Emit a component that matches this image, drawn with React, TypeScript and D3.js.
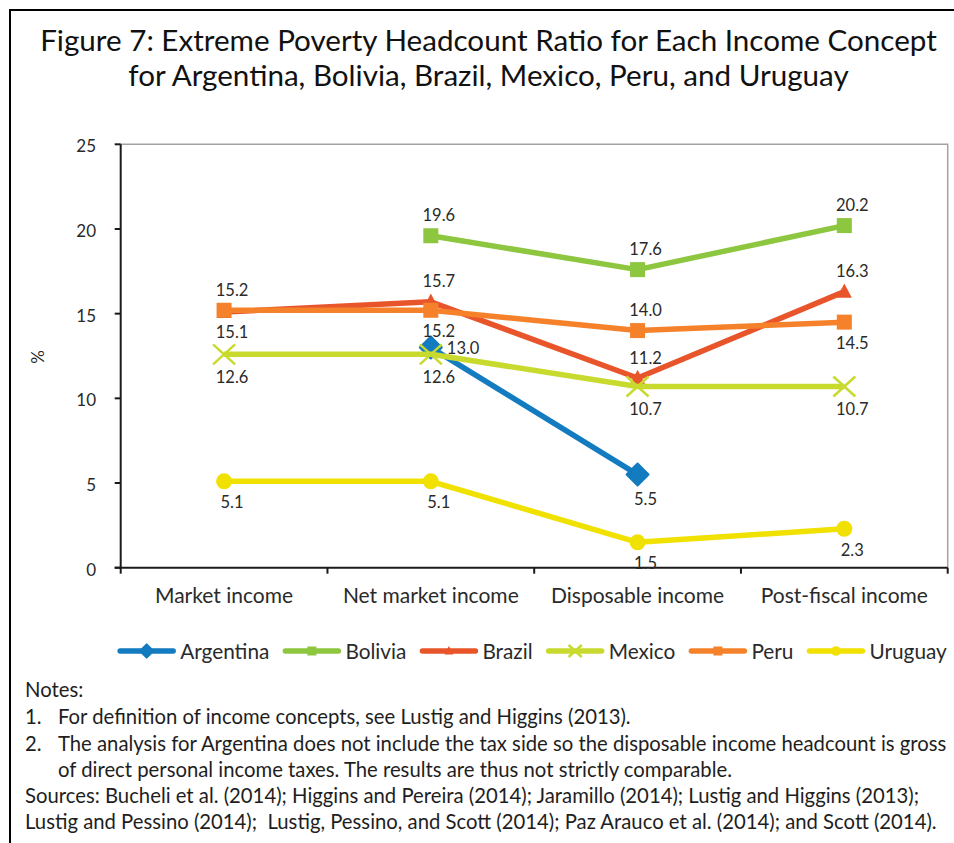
import React, { useMemo } from "react";
import * as d3 from "d3";

// Income concepts along the x axis
const categories = ["Market income", "Net market income", "Disposable income", "Post-fiscal income"];

// Extreme poverty headcount ratio (%) per income concept
const argentina: (number | null)[] = [null, 13.0, 5.5, null];
const bolivia: (number | null)[] = [null, 19.6, 17.6, 20.2];
const brazil: (number | null)[] = [15.1, 15.7, 11.2, 16.3];
const mexico: (number | null)[] = [12.6, 12.6, 10.7, 10.7];
const peru: (number | null)[] = [15.2, 15.2, 14.0, 14.5];
const uruguay: (number | null)[] = [5.1, 5.1, 1.5, 2.3];

// Where each value label sits relative to its marker
const argentinaLabelSide = [null, "right", "below", null];
const boliviaLabelSide = [null, "above", "above", "above"];
const brazilLabelSide = ["below", "above", "above", "above"];
const mexicoLabelSide = ["below", "below", "below", "below"];
const peruLabelSide = ["above", "below", "above", "below"];
const uruguayLabelSide = ["below", "below", "below", "below"];

const yTicks = [0, 5, 10, 15, 20, 25];

const titleLines = [
  "Figure 7: Extreme Poverty Headcount Ratio for Each Income Concept",
  "for Argentina, Bolivia, Brazil, Mexico, Peru, and Uruguay",
];

const noteLines = [
  "For definition of income concepts, see Lustig and Higgins (2013).",
  "The analysis for Argentina does not include the tax side so the disposable income headcount is gross",
  "of direct personal income taxes. The results are thus not strictly comparable.",
];
const sourceLines = [
  "Sources: Bucheli et al. (2014); Higgins and Pereira (2014); Jaramillo (2014); Lustig and Higgins (2013);",
  "Lustig and Pessino (2014);  Lustig, Pessino, and Scott (2014); Paz Arauco et al. (2014); and Scott (2014).",
];

type Shape = "diamond" | "square" | "triangle" | "cross" | "circle";

const series = [
  { name: "Argentina", values: argentina, sides: argentinaLabelSide, color: "#137bbf", shape: "diamond" as Shape, r: 11 },
  { name: "Bolivia", values: bolivia, sides: boliviaLabelSide, color: "#8dc63f", shape: "square" as Shape, r: 7.5 },
  { name: "Brazil", values: brazil, sides: brazilLabelSide, color: "#e9552b", shape: "triangle" as Shape, r: 7.5 },
  { name: "Mexico", values: mexico, sides: mexicoLabelSide, color: "#c9da2f", shape: "cross" as Shape, r: 10 },
  { name: "Peru", values: peru, sides: peruLabelSide, color: "#f5822a", shape: "square" as Shape, r: 7.5 },
  { name: "Uruguay", values: uruguay, sides: uruguayLabelSide, color: "#f0e100", shape: "circle" as Shape, r: 8 },
];

const W = 954;
const H = 843;
const FONT = "Lato, 'Open Sans', sans-serif";
const TEXT = "#2a2a2a";
const NOTE = "#1e1e1e";
const NOTE_SIZE = 20.3;

const plot = { left: 120.7, right: 947.7, top: 144.3, bottom: 567.7 };

function Marker({ shape, x, y, r, color }: { shape: Shape; x: number; y: number; r: number; color: string }) {
  switch (shape) {
    case "diamond":
      return (
        <path
          d={`M${x},${y - r}L${x + r},${y}L${x},${y + r}L${x - r},${y}Z`}
          fill={color}
          stroke={color}
          strokeWidth={2}
          strokeLinejoin="round"
        />
      );
    case "square":
      return <rect x={x - r} y={y - r} width={2 * r} height={2 * r} fill={color} />;
    case "triangle":
      return <path d={`M${x},${y - r * 1.1}L${x + r},${y + r * 0.8}L${x - r},${y + r * 0.8}Z`} fill={color} />;
    case "cross":
      return (
        <path
          d={`M${x - r * 1.1},${y - r}L${x + r * 1.1},${y + r}M${x - r * 1.1},${y + r}L${x + r * 1.1},${y - r}`}
          stroke={color}
          strokeWidth={2.5}
          fill="none"
        />
      );
    default:
      return <circle cx={x} cy={y} r={r} fill={color} />;
  }
}

export default function App() {
  const x = d3.scaleBand<string>().domain(categories).range([plot.left, plot.right]).padding(0);
  const cx = (c: string) => (x(c) ?? 0) + x.bandwidth() / 2;
  const y = d3.scaleLinear().domain([0, 25]).range([plot.bottom, plot.top]);

  const line = d3
    .line<number | null>()
    .defined((d) => d !== null)
    .x((_, i) => cx(categories[i]))
    .y((d) => y(d as number));

  // Legend layout: measure each name so the row can be centred under the plot
  const legendFont = 20.8;
  const legendItems = useMemo(() => {
    const ctx = document.createElement("canvas").getContext("2d");
    const widths = series.map((s) => {
      if (!ctx) return s.name.length * 10;
      ctx.font = `${legendFont}px Lato`;
      return ctx.measureText(s.name).width;
    });
    const lineLen = 57;
    const gapText = 5;
    const gapItem = 14;
    const total =
      widths.reduce((a, w) => a + lineLen + gapText + w, 0) + gapItem * (series.length - 1);
    let start = 532.5 - total / 2;
    return series.map((s, i) => {
      const item = { s, x0: start, lineLen, textX: start + lineLen + gapText };
      start += lineLen + gapText + widths[i] + gapItem;
      return item;
    });
  }, []);

  const legendY = 651;

  return (
    <svg
      width={W}
      height={H}
      style={{ position: "absolute", left: 0, top: 0, background: "#fff" }}
      fontFamily={FONT}
    >
      <rect width={W} height={H} fill="#fff" />
      {/* Figure frame */}
      <line x1={9} y1={10} x2={W} y2={10} stroke="#000" strokeWidth={2} />
      <line x1={10} y1={9} x2={10} y2={H} stroke="#000" strokeWidth={2} />

      {/* Title */}
      {titleLines.map((t, i) => (
        <text key={t} x={488.5} y={51 + i * 34.5} textAnchor="middle" fontSize={29.6} fill="#111">
          {t}
        </text>
      ))}

      {/* Plot border: top and right in grey */}
      <path
        d={`M${plot.left},${plot.top}H${plot.right}V${plot.bottom}`}
        fill="none"
        stroke="#a3a3a3"
        strokeWidth={1.5}
      />

      {/* Y axis */}
      <line x1={plot.left} y1={plot.top} x2={plot.left} y2={plot.bottom} stroke="#1a1a1a" strokeWidth={2} />
      {yTicks.map((t) => (
        <g key={t}>
          <line x1={plot.left - 6} x2={plot.left} y1={y(t)} y2={y(t)} stroke="#1a1a1a" strokeWidth={2} />
          <text x={96} y={y(t) + 8} textAnchor="end" fontSize={17} fill={TEXT}>
            {t}
          </text>
        </g>
      ))}
      <text transform={`translate(44,357) rotate(-90)`} textAnchor="middle" fontSize={17} fill={TEXT}>
        %
      </text>

      {/* X axis */}
      <line x1={plot.left - 6} x2={plot.right} y1={plot.bottom} y2={plot.bottom} stroke="#1a1a1a" strokeWidth={2} />
      {[...categories.map((c) => x(c) ?? 0), plot.right].map((v, i) => (
        <line key={i} x1={v} x2={v} y1={plot.bottom} y2={plot.bottom + 6} stroke="#1a1a1a" strokeWidth={2} />
      ))}
      {categories.map((c) => (
        <text key={c} x={cx(c)} y={603} textAnchor="middle" fontSize={21} fill={TEXT}>
          {c}
        </text>
      ))}

      {/* Series lines and markers */}
      {series.map((s) => (
        <g key={s.name}>
          <path d={line(s.values) ?? ""} fill="none" stroke={s.color} strokeWidth={5.5} strokeLinejoin="round" />
          {s.values.map((v, i) =>
            v === null ? null : (
              <Marker key={i} shape={s.shape} x={cx(categories[i])} y={y(v)} r={s.r} color={s.color} />
            )
          )}
        </g>
      ))}

      {/* Value labels */}
      {series.map((s) =>
        s.values.map((v, i) => {
          if (v === null) return null;
          const side = s.sides[i];
          const px = cx(categories[i]);
          const py = y(v);
          let tx = px + 8;
          let ty = py;
          let anchor: "middle" | "start" = "middle";
          if (side === "above") ty = py - s.r - 7;
          else if (side === "below") ty = py + s.r + 19;
          else {
            tx = px + 16;
            ty = py + 6;
            anchor = "start";
          }
          return (
            <text key={`${s.name}-${i}`} x={tx} y={ty} textAnchor={anchor} fontSize={16.5} fill={TEXT}>
              {v.toFixed(1)}
            </text>
          );
        })
      )}

      {/* Legend */}
      {legendItems.map(({ s, x0, lineLen, textX }) => (
        <g key={s.name}>
          <line
            x1={x0 + 2}
            x2={x0 + lineLen - 2}
            y1={legendY}
            y2={legendY}
            stroke={s.color}
            strokeWidth={5.5}
            strokeLinecap="round"
          />
          <Marker shape={s.shape} x={x0 + lineLen / 2} y={legendY} r={s.r * 0.6} color={s.color} />
          <text x={textX} y={legendY + 8} fontSize={legendFont} fill={TEXT}>
            {s.name}
          </text>
        </g>
      ))}

      {/* Notes and sources */}
      <text x={25} y={697} fontSize={NOTE_SIZE} fill={NOTE}>
        Notes:
      </text>
      <text x={25} y={724} fontSize={NOTE_SIZE} fill={NOTE}>1.</text>
      <text x={58} y={724} fontSize={NOTE_SIZE} fill={NOTE}>{noteLines[0]}</text>
      <text x={25} y={750.5} fontSize={NOTE_SIZE} fill={NOTE}>2.</text>
      <text x={58} y={750.5} fontSize={NOTE_SIZE} fill={NOTE}>{noteLines[1]}</text>
      <text x={58} y={777} fontSize={NOTE_SIZE} fill={NOTE}>{noteLines[2]}</text>
      {sourceLines.map((t, i) => (
        <text key={i} x={25} y={803 + i * 26} fontSize={NOTE_SIZE} fill={NOTE} style={{ whiteSpace: "pre" }}>
          {t}
        </text>
      ))}
    </svg>
  );
}
